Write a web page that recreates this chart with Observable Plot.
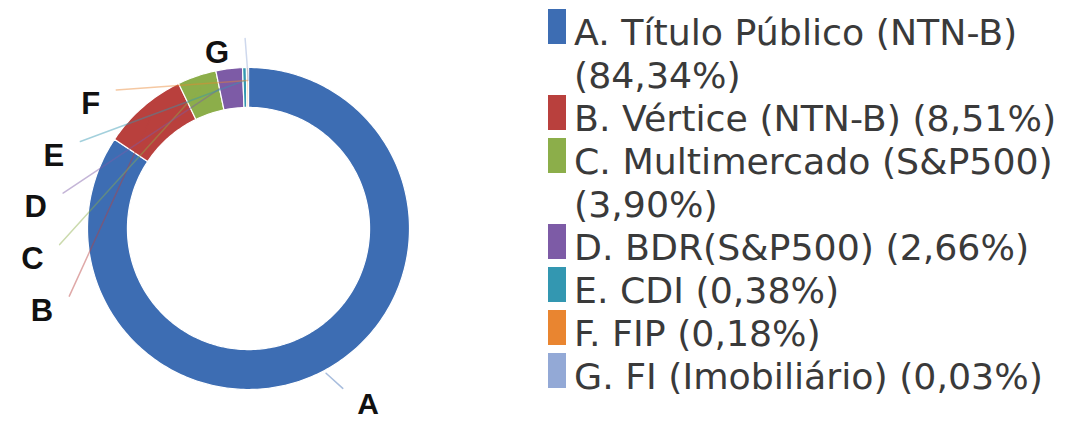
<!DOCTYPE html>
<html><head><meta charset="utf-8">
<script src="https://cdn.jsdelivr.net/npm/d3@7"></script>
<script src="https://cdn.jsdelivr.net/npm/@observablehq/plot@0.6"></script>
<style>
body{margin:0;background:#fff;}
#wrap{position:relative;width:1083px;height:421px;overflow:hidden;background:#fff;}
#chart{position:absolute;left:0;top:0;}
#legend{position:absolute;left:548px;top:11px;font-family:"DejaVu Sans";font-size:36.3px;line-height:43px;color:#3a3a3a;}
.row{display:flex;align-items:flex-start;}
.sw{width:18px;height:35px;margin-top:-2px;margin-right:8px;flex:none;}
.tx{width:509px;}
.nw{white-space:nowrap;}
</style></head><body><div id="wrap"><div id="chart"></div><div id="legend"></div></div>
<script>
// ---- data ----
const letters = ["A","B","C","D","E","F","G"];
const names = ["Título Público (NTN-B)","Vértice (NTN-B)","Multimercado (S&P500)","BDR(S&P500)","CDI","FIP","FI (Imobiliário)"];
const shares = [84.34, 8.51, 3.90, 2.66, 0.38, 0.18, 0.03];
const pctLabels = ["84,34%","8,51%","3,90%","2,66%","0,38%","0,18%","0,03%"];
const colors = ["#3d6db3","#b9403d","#8cae4a","#7d5ba6","#3397b1","#e98530","#93a9d6"];

// ---- geometry (computed from data) ----
const total = d3.sum(shares);
let acc = 0;
const slices = shares.map((v, i) => {
  const a0 = acc / total * 2 * Math.PI; acc += v;
  const a1 = acc / total * 2 * Math.PI;
  return {key: letters[i], a0, a1, mid: (a0 + a1) / 2};
});
const Rin = 0.752, Rout = 1;
const poly = [];
slices.forEach(s => {
  const n = Math.max(2, Math.ceil((s.a1 - s.a0) / (Math.PI / 180)));
  for (let k = 0; k <= n; k++) { const a = s.a0 + (s.a1 - s.a0) * k / n; poly.push({key: s.key, x: Rout * Math.sin(a), y: Rout * Math.cos(a)}); }
  for (let k = n; k >= 0; k--) { const a = s.a0 + (s.a1 - s.a0) * k / n; poly.push({key: s.key, x: Rin * Math.sin(a), y: Rin * Math.cos(a)}); }
});

// label layout: left-side labels stacked with minimum vertical gap
const Rl = 1.09, gap = 0.32;
const left = slices.filter(s => s.mid > Math.PI).sort((a, b) => b.mid - a.mid);
let prev = Infinity;
left.forEach(s => {
  const y0 = Rl * Math.cos(s.mid);
  const y = Math.min(y0, prev - gap);
  prev = y;
  s.ly = y;
  const R = 1.27 - 0.09 * y;
  s.lx = (y < y0 - 1e-9) ? -Math.sqrt(Math.max(0, R * R - y * y)) : Rl * Math.sin(s.mid) - 0.12;
  s.sx = s.lx + 0.1; s.sy = s.ly + 0.09; s.ex = 0.92 * Math.sin(s.mid); s.ey = 0.92 * Math.cos(s.mid);
});
const right = slices.filter(s => s.mid <= Math.PI);
right.forEach(s => {
  s.lx = 1.24 * Math.sin(s.mid) + 0.09; s.ly = 1.24 * Math.cos(s.mid);
  s.sx = s.lx - 0.09; s.sy = s.ly + 0.1; s.ex = 1.02 * Math.sin(s.mid); s.ey = 1.02 * Math.cos(s.mid);
});
const leaders = slices.flatMap(s => [{key: s.key, x: s.sx, y: s.sy}, {key: s.key, x: s.ex, y: s.ey}]);

const plot = Plot.plot({
  width: 1083, height: 421, margin: 0,
  x: {domain: [-1, 1], range: [87, 409], axis: null},
  y: {domain: [-1, 1], range: [389, 67], axis: null},
  color: {domain: letters, range: colors},
  style: {background: "transparent"},
  marks: [
    Plot.line(poly, {x: "x", y: "y", z: "key", fill: "key", stroke: "#fff", strokeWidth: 1.2, curve: "linear-closed"}),
    Plot.line(leaders, {x: "x", y: "y", z: "key", stroke: "key", strokeWidth: 1.5, strokeOpacity: 0.45}),
    Plot.text(left, {x: "lx", y: "ly", text: "key", textAnchor: "end", fontFamily: "Liberation Sans", fontWeight: "bold", fontSize: 31, fill: "#111"}),
    Plot.text(right, {x: "lx", y: "ly", text: "key", textAnchor: "start", fontFamily: "Liberation Sans", fontWeight: "bold", fontSize: 30, fill: "#111"})
  ]
});
document.getElementById("chart").appendChild(plot);

// legend
const lg = document.getElementById("legend");
letters.forEach((l, i) => {
  const row = document.createElement("div"); row.className = "row";
  const sw = document.createElement("div"); sw.className = "sw"; sw.style.background = colors[i];
  const tx = document.createElement("div"); tx.className = "tx";
  tx.textContent = `${l}. ${names[i]} `;
  const p = document.createElement("span"); p.className = "nw"; p.textContent = `(${pctLabels[i]})`;
  tx.appendChild(p);
  row.appendChild(sw); row.appendChild(tx); lg.appendChild(row);
});
</script></body></html>
